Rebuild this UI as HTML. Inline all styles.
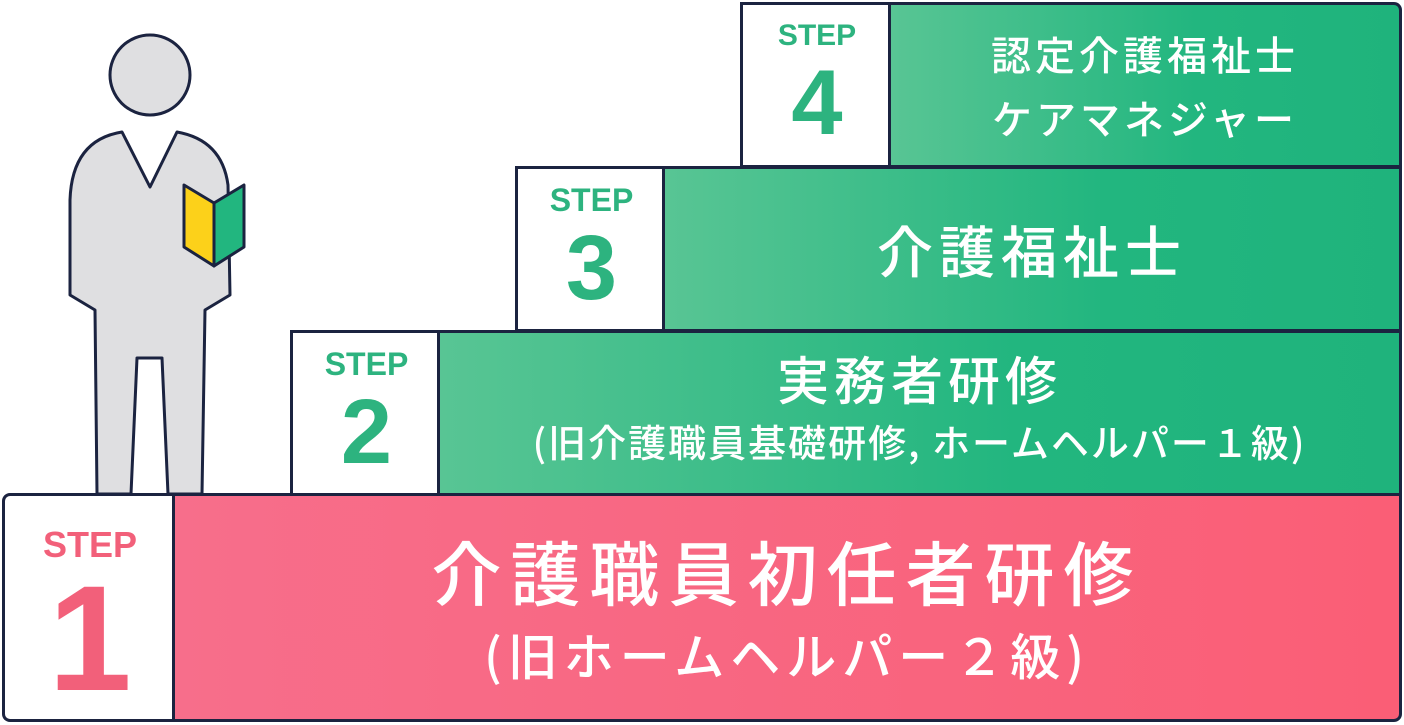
<!DOCTYPE html>
<html><head><meta charset="utf-8"><style>
body{margin:0;width:1404px;height:725px;background:#fff;overflow:hidden;position:relative;font-family:"Liberation Sans","Noto Sans CJK JP",sans-serif}
.b{position:absolute;box-sizing:border-box;border:3px solid #1b2340}
.w{background:#fff;display:flex;flex-direction:column;align-items:center;justify-content:center}
.g{background:linear-gradient(90deg,#58c594,#22b67f 60%,#1fb37c);color:#fff;display:flex;flex-direction:column;align-items:center;justify-content:center;border-radius:0 8px 0 0;text-align:center}
.p{background:linear-gradient(90deg,#f76e8b,#fa5e76);color:#fff;display:flex;flex-direction:column;align-items:center;justify-content:center;border-radius:0 0 8px 0;text-align:center}
.st{font-weight:bold;color:#2db37f;font-size:32px;line-height:1}
.n{font-weight:bold;color:#2db37f;font-size:92px;line-height:1}
.jp{font-family:"Noto Sans CJK JP",sans-serif;font-weight:500}
</style></head><body>
<svg style="position:absolute;left:0;top:0" width="300" height="500">
<circle cx="150" cy="75" r="40" fill="#dfdfe1" stroke="#1b2340" stroke-width="3"/>
<path d="M122,132 L150,187 L177,132 Q222,140 228,185 L230,295 L205,310 L202,494 L168,494 L162,358 L137,358 L131,494 L97,494 L95,310 L70,295 L70,200 Q72,140 122,132 Z" fill="#dfdfe1" stroke="#1b2340" stroke-width="3" stroke-linejoin="round"/>
<path d="M184,185 L214,203 L214,266 L184,247 Z" fill="#fcd11a" stroke="#1b2340" stroke-width="3" stroke-linejoin="round"/>
<path d="M214,203 L244,185 L244,247 L214,266 Z" fill="#22b67f" stroke="#1b2340" stroke-width="3" stroke-linejoin="round"/>
</svg>
<div class="b w" style="left:740px;top:2px;width:151px;height:166px;border-right:none"><div class="st" style="font-size:30px">STEP</div><div class="n" style="margin-top:6px">4</div></div>
<div class="b g jp" style="left:888px;top:2px;width:514px;height:166px;font-size:40px;line-height:64px;letter-spacing:4px">認定介護福祉士<br>ケアマネジャー</div>
<div class="b w" style="left:515px;top:166px;width:150px;height:166px;border-right:none"><div class="st">STEP</div><div class="n" style="margin-top:6px">3</div></div>
<div class="b g jp" style="left:662px;top:166px;width:740px;height:166px;font-size:56px;letter-spacing:6px;border-radius:0">介護福祉士</div>
<div class="b w" style="left:290px;top:330px;width:150px;height:166px;border-right:none"><div class="st">STEP</div><div class="n" style="margin-top:6px">2</div></div>
<div class="b g jp" style="left:437px;top:330px;width:965px;height:166px;border-radius:0"><div style="font-size:52px;letter-spacing:5px;line-height:70px;margin-top:-14px">実務者研修</div><div style="font-size:38px;line-height:56px;letter-spacing:2px">(旧介護職員基礎研修, ホームヘルパー１級)</div></div>
<div class="b w" style="left:2px;top:493px;width:173px;height:229px;border-right:none;border-radius:8px 0 0 8px"><div class="st" style="color:#f2607a;font-size:36px;margin-top:24px">STEP</div><div class="n" style="color:#f2607a;font-size:150px;margin-top:0px">1</div></div>
<div class="b p jp" style="left:172px;top:493px;width:1230px;height:229px"><div style="font-size:70px;letter-spacing:9px;line-height:92px">介護職員初任者研修</div><div style="font-size:50px;letter-spacing:6px;line-height:74px">(旧ホームヘルパー２級)</div></div>
</body></html>
